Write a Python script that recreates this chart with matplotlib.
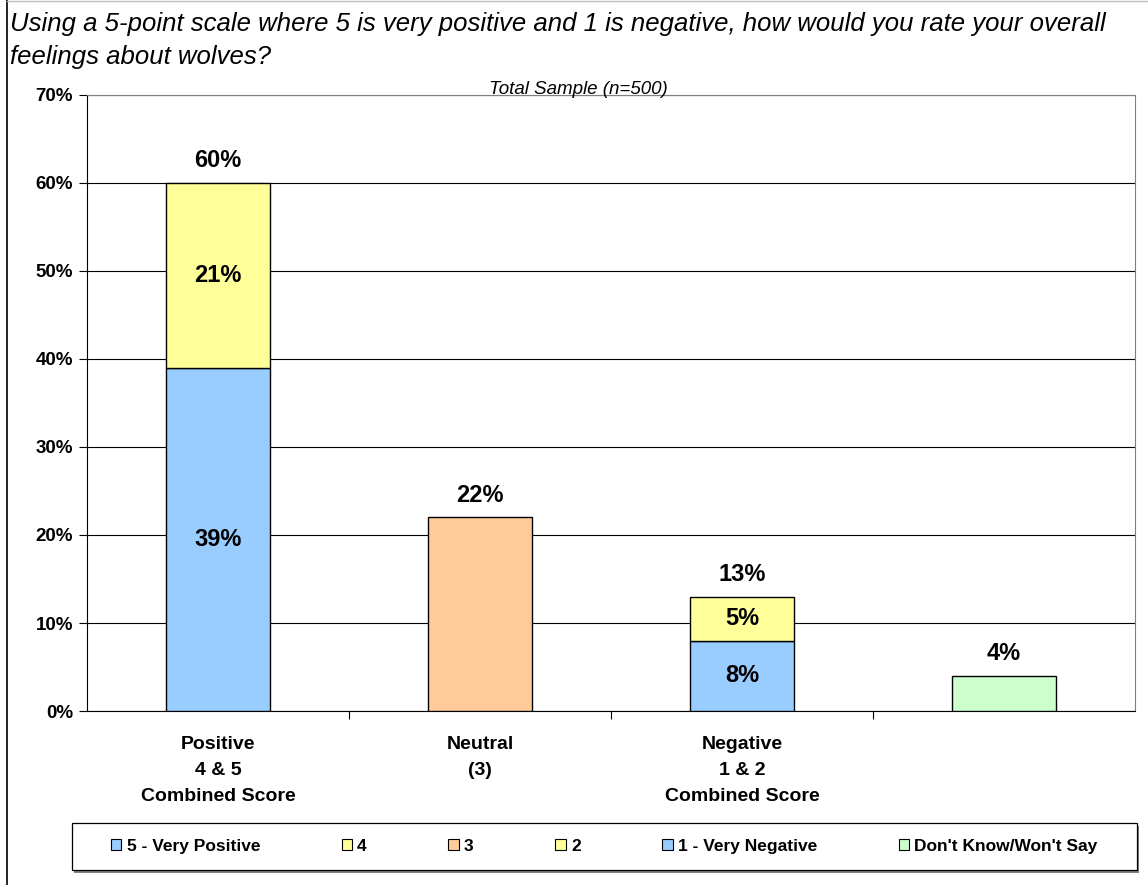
import numpy as np
import matplotlib.pyplot as plt
from matplotlib.patches import Patch, Rectangle
from matplotlib.lines import Line2D

plt.rcParams['font.family'] = ['Liberation Sans', 'DejaVu Sans']

# data
categories = ['Positive\n4 & 5\nCombined Score', 'Neutral\n(3)', 'Negative\n1 & 2\nCombined Score', '']
bottom_vals = [39, 22, 8, 4]      # 5 / 3 / 1 / don't know
top_vals = [21, 0, 5, 0]          # 4 / - / 2 / -
totals = [60, 22, 13, 4]
bottom_colors = ['#99CCFF', '#FFCC99', '#99CCFF', '#CCFFCC']
top_colors = ['#FFFF99', '#FFFF99', '#FFFF99', '#FFFF99']
legend_labels = ['5 - Very Positive', '4', '3', '2', '1 - Very Negative', "Don't Know/Won't Say"]
legend_colors = ['#99CCFF', '#FFFF99', '#FFCC99', '#FFFF99', '#99CCFF', '#CCFFCC']

fig = plt.figure(figsize=(11.48, 8.85), dpi=100)
ax = fig.add_axes([0.0758, 0.1966, 0.9129, 0.6961])

x = np.arange(len(categories))
w = 0.4
ax.bar(x, bottom_vals, w, color=bottom_colors, edgecolor='black', linewidth=1, zorder=3)
has_top = [v > 0 for v in top_vals]
ax.bar(x[has_top], np.array(top_vals)[has_top], w, bottom=np.array(bottom_vals)[has_top],
       color=np.array(top_colors)[has_top], edgecolor='black', linewidth=1, zorder=3)

# inner segment labels (only for stacked bars)
for i in range(len(x)):
    if top_vals[i] > 0:
        ax.text(x[i], bottom_vals[i] / 2, f'{bottom_vals[i]}%', ha='center', va='center',
                fontsize=17, fontweight='bold', zorder=4)
        ax.text(x[i], bottom_vals[i] + top_vals[i] / 2, f'{top_vals[i]}%', ha='center', va='center',
                fontsize=17, fontweight='bold', zorder=4)
    ax.annotate(f'{totals[i]}%', (x[i], totals[i]), xytext=(0, 16), textcoords='offset points',
                ha='center', va='center', fontsize=17, fontweight='bold')

ax.set_xlim(-0.5, 3.5)
ax.set_ylim(0, 70)
ax.set_yticks(np.arange(0, 71, 10))
ax.set_yticklabels([f'{v}%' for v in range(0, 71, 10)], fontsize=13.5, fontweight='bold')
ax.yaxis.grid(True, color='black', linewidth=0.8, zorder=0)
ax.set_axisbelow(True)

ax.set_xticks([0.5, 1.5, 2.5])
ax.set_xticklabels([])
ax.tick_params(axis='x', length=6, width=0.8, direction='out')
ax.tick_params(axis='y', length=6, width=0.8, direction='out', pad=4)
for i, lab in enumerate(categories):
    ax.text(x[i], -2.85, lab, ha='center', va='top', fontsize=14, fontweight='bold', linespacing=1.7)

for s in ax.spines.values():
    s.set_linewidth(0.8)
ax.spines['right'].set_color('#808080')
ax.spines['top'].set_color('#808080')

fig.text(0.009, 0.986, 'Using a 5-point scale where 5 is very positive and 1 is negative, how would you rate your overall\nfeelings about wolves?',
         ha='left', va='top', fontsize=18.5, style='italic', linespacing=1.45)
fig.text(0.504, 0.899, 'Total Sample (n=500)', ha='center', va='center', fontsize=13.5, style='italic')

# outer frame lines
fig.add_artist(Line2D([0.0065, 0.0065], [0, 1], color='black', linewidth=1.2))
fig.add_artist(Line2D([0.0065, 1], [0.9985, 0.9985], color='#C0C0C0', linewidth=1))

# legend box with shadow
box = [0.0627, 0.017, 0.9273, 0.053]
fig.add_artist(Rectangle((box[0] + 0.002, box[1] - 0.003), box[2], box[3], transform=fig.transFigure,
                         facecolor='#808080', edgecolor='none'))
fig.add_artist(Rectangle((box[0], box[1]), box[2], box[3], transform=fig.transFigure,
                         facecolor='white', edgecolor='black', linewidth=0.9))

handles = [Patch(facecolor=c, edgecolor='black', linewidth=0.8) for c in legend_colors]
leg = fig.legend(handles, legend_labels, loc='center', ncol=6,
                 bbox_to_anchor=(box[0] + box[2] / 2, box[1] + box[3] / 2),
                 prop={'weight': 'bold', 'size': 12.5}, frameon=False,
                 handlelength=0.6, handleheight=0.6, handletextpad=0.3, columnspacing=4.7)

fig.savefig('out.png', dpi=100)
